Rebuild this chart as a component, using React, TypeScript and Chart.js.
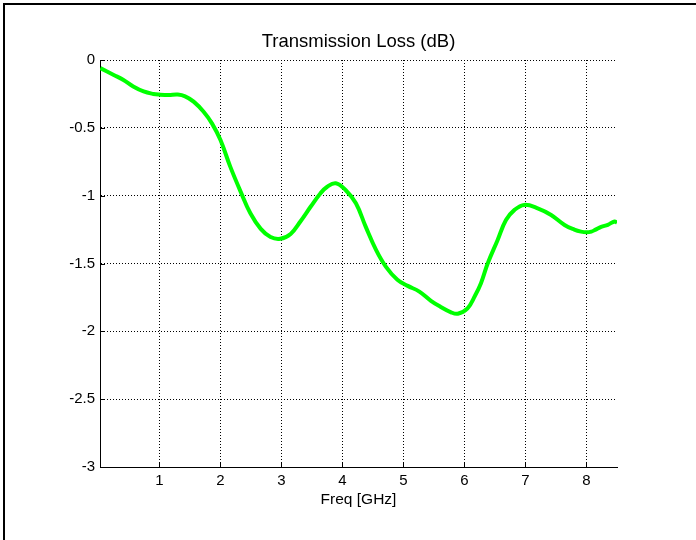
import React, { useEffect, useRef } from "react";
import { Chart, registerables } from "chart.js";

Chart.register(...registerables);

const freqGHz = [
  0.03, 0.25, 0.41, 0.57, 0.74, 0.9, 1.0, 1.15, 1.3, 1.42, 1.56, 1.72, 1.86, 2.0,
  2.16, 2.33, 2.49, 2.66, 2.82, 2.98, 3.15, 3.31, 3.48, 3.64, 3.75, 3.89, 4.05,
  4.22, 4.38, 4.55, 4.71, 4.9, 5.07, 5.26, 5.45, 5.61, 5.78, 5.89, 6.05, 6.17,
  6.27, 6.38, 6.54, 6.68, 6.82, 6.98, 7.2, 7.42, 7.64, 7.8, 7.91, 8.0, 8.08, 8.15,
  8.24, 8.35, 8.46, 8.5,
];
const lossDb = [
  -0.06, -0.11, -0.147, -0.195, -0.232, -0.25, -0.255, -0.258, -0.255, -0.268,
  -0.307, -0.38, -0.467, -0.59, -0.786, -0.97, -1.13, -1.245, -1.305, -1.318,
  -1.282, -1.19, -1.08, -0.982, -0.934, -0.909, -0.958, -1.056, -1.228, -1.4,
  -1.523, -1.62, -1.665, -1.707, -1.775, -1.82, -1.86, -1.87, -1.83, -1.74,
  -1.645, -1.5, -1.33, -1.18, -1.105, -1.068, -1.093, -1.142, -1.216, -1.25,
  -1.265, -1.27, -1.265, -1.25, -1.23, -1.215, -1.19, -1.2,
];
const xTicks = [1, 2, 3, 4, 5, 6, 7, 8];
const yTicks = [0, -0.5, -1, -1.5, -2, -2.5, -3];
const titleText = "Transmission Loss (dB)";
const xLabel = "Freq [GHz]";

const FONT = 'Arial, "Liberation Sans", sans-serif';

const decorPlugin = {
  id: "decor",
  afterDraw(chart: any) {
    const { ctx, chartArea, scales } = chart;
    ctx.save();
    // figure frame (top and left edges)
    ctx.fillStyle = "#000";
    ctx.fillRect(3, 3, 693, 2);
    ctx.fillRect(3, 3, 2, 537);
    // inward tick marks
    ctx.strokeStyle = "#000";
    ctx.lineWidth = 1;
    ctx.beginPath();
    xTicks.forEach((v) => {
      const px = Math.round(scales.x.getPixelForValue(v)) + 0.5;
      ctx.moveTo(px, chartArea.bottom);
      ctx.lineTo(px, chartArea.bottom - 5);
    });
    yTicks.forEach((v) => {
      const py = Math.round(scales.y.getPixelForValue(v)) + 0.5;
      ctx.moveTo(chartArea.left, py);
      ctx.lineTo(chartArea.left + 5, py);
    });
    ctx.stroke();
    // title
    ctx.fillStyle = "#000";
    ctx.font = `18.5px ${FONT}`;
    ctx.textAlign = "center";
    ctx.textBaseline = "middle";
    ctx.fillText(titleText, (chartArea.left + chartArea.right) / 2, 42);
    ctx.restore();
  },
};

export default function App() {
  const ref = useRef<HTMLCanvasElement | null>(null);
  useEffect(() => {
    if (!ref.current) return;
    const chart = new Chart(ref.current, {
      type: "line",
      data: {
        datasets: [
          {
            data: freqGHz.map((f, i) => ({ x: f, y: lossDb[i] })),
            borderColor: "#00ff00",
            borderWidth: 4,
            pointRadius: 0,
            tension: 0.4,
            fill: false,
          },
        ],
      },
      options: {
        responsive: false,
        animation: false,
        events: [],
        layout: { padding: { left: 0, top: 60, right: 79, bottom: 0 } },
        plugins: { legend: { display: false }, tooltip: { enabled: false }, title: { display: false } },
        scales: {
          x: {
            type: "linear",
            min: 0.025,
            max: 8.5,
            afterBuildTicks: (s: any) => {
              s.ticks = xTicks.map((v) => ({ value: v }));
            },
            afterFit: (s: any) => {
              s.height = 73;
            },
            ticks: {
              color: "#000",
              font: { family: FONT, size: 15 },
              padding: 5,
              maxRotation: 0,
              autoSkip: false,
              callback: (v: any) => String(v),
            },
            grid: { color: "#000", lineWidth: 1, drawTicks: false },
            border: { display: true, color: "#000", width: 1, dash: [1, 2] },
            title: {
              display: true,
              text: xLabel,
              color: "#000",
              font: { family: FONT, size: 15.5 },
              padding: { top: 0, bottom: 31 },
            },
          },
          y: {
            type: "linear",
            min: -3,
            max: 0,
            afterBuildTicks: (s: any) => {
              s.ticks = yTicks.map((v) => ({ value: v }));
            },
            afterFit: (s: any) => {
              s.width = 100;
            },
            ticks: {
              color: "#000",
              font: { family: FONT, size: 15 },
              padding: 5,
              autoSkip: false,
              callback: (v: any) => String(v),
            },
            grid: { color: "#000", lineWidth: 1, drawTicks: false },
            border: { display: true, color: "#000", width: 1, dash: [1, 2] },
          },
        },
      },
      plugins: [decorPlugin],
    });
    return () => chart.destroy();
  }, []);
  return (
    <div style={{ position: "fixed", left: 0, top: 0, width: 696, height: 540, background: "#fff" }}>
      <canvas ref={ref} width={696} height={540} />
    </div>
  );
}
